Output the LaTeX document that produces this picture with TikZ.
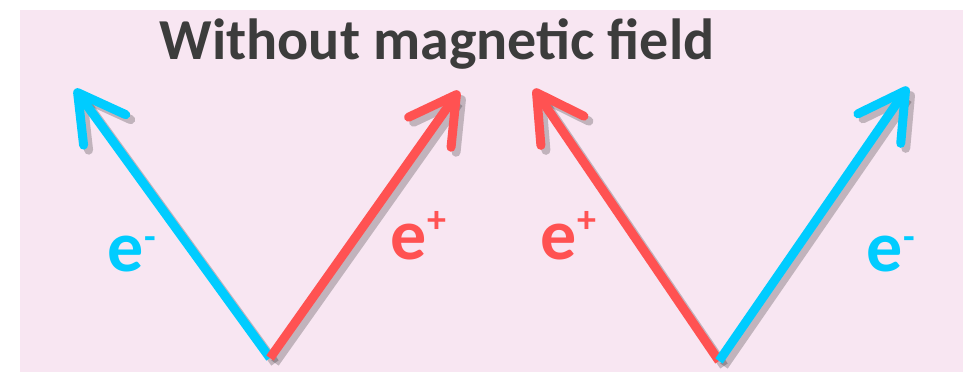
\documentclass[tikz,border=0pt]{standalone}
\usepackage{fontspec}
\setmainfont{Carlito}
\usetikzlibrary{arrows.meta}
\definecolor{bgpink}{RGB}{248,230,242}
\definecolor{eblue}{RGB}{0,204,255}
\definecolor{ered}{RGB}{255,82,82}
\definecolor{titlegray}{RGB}{60,60,60}

\newcommand{\chg}[2]{#1\raisebox{#2}{\fontsize{38}{38}\selectfont\bfseries\kern1pt+}}
\newcommand{\chm}[1]{#1\raisebox{21pt}{\fontsize{38}{38}\selectfont\bfseries\kern1pt-}}

\begin{document}
\begin{tikzpicture}[
  x=1pt,
  y=-1pt,
  track/.style={
    line width=9pt,
    -{Straight Barb[length=46pt,width=52pt,round]}
  },
  shadow/.style={track,draw=black,opacity=.22},
  lbl/.style={font=\fontsize{72}{72}\selectfont\bfseries,inner sep=0pt,anchor=base west},
  title/.style={font=\fontsize{58}{58}\selectfont\bfseries,inner sep=0pt,anchor=base}
]
\useasboundingbox (0,0) rectangle (963,379);
\fill[white] (0,0) rectangle (963,379);
\fill[bgpink] (20,10) rectangle (963,372);

% vertices and tips of the two V's
\coordinate (vl) at (270,358);
\coordinate (vr) at (719,361);
\coordinate (tlb) at (75,89);
\coordinate (tlr) at (459,91);
\coordinate (trr) at (534,89);
\coordinate (trb) at (908,87);

% drop shadows
\draw[shadow] ([shift={(5,5)}]vl) -- ([shift={(5,5)}]tlb);
\draw[shadow] ([shift={(5,5)}]vl) -- ([shift={(5,5)}]tlr);
\draw[shadow] ([shift={(5,5)}]vr) -- ([shift={(5,5)}]trr);
\draw[shadow] ([shift={(5,5)}]vr) -- ([shift={(5,5)}]trb);

% particle tracks
\draw[track,eblue] (vl) -- (tlb);
\draw[track,ered] (vl) -- (tlr);
\draw[track,ered] (vr) -- (trr);
\draw[track,eblue] (vr) -- (trb);

% title
\node[title,text=titlegray] (head) at (437,60) {Without magnetic field};

% labels
\node[lbl,text=eblue] (elm) at (107,271) {\chm{e}};
\node[lbl,text=ered] (elp) at (390,260) {\chg{e}{28pt}};
\node[lbl,text=ered] (erp) at (540,260) {\chg{e}{28pt}};
\node[lbl,text=eblue] (erm) at (866,271) {\chm{e}};
\end{tikzpicture}
\end{document}
